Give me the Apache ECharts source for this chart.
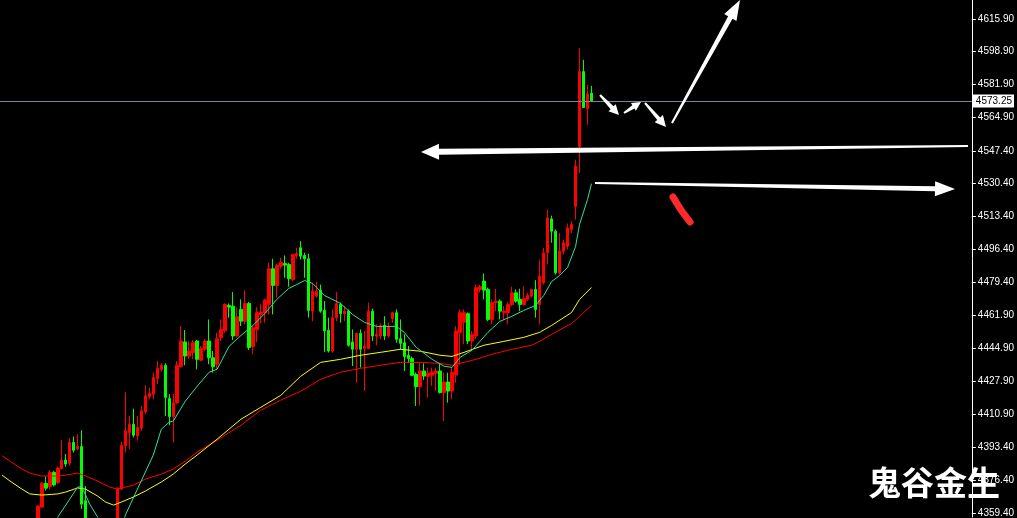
<!DOCTYPE html>
<html><head><meta charset="utf-8">
<script src="https://cdn.jsdelivr.net/npm/echarts@6/dist/echarts.min.js"></script>
<style>html,body{margin:0;padding:0;background:#000}#c{width:1017px;height:518px}</style>
</head><body><div id="c"></div>
<script>
// ---- data ----
const slotCount = 244;
const opens  = [4345,4338,4344,4340,4346,4341,4347,4343,4348,4353.7,4362.5,4374.8,4373.2,4380.5,4375.3,4382.5,4386.9,4385.2,4396.0,4392.6,4393.9,4365.8,4350,4342,4336,4340,4333,4341,4348,4353.7,4371.8,4394.3,4401.2,4405.5,4399.4,4403.4,4411.9,4419.9,4421.1,4429.2,4434.0,4436.1,4418.8,4409.5,4416.7,4435.4,4448.2,4440.9,4442.6,4448.7,4438.7,4444.4,4448.7,4440.0,4436.6,4450.4,4454.0,4467.2,4466.8,4451.3,4465.1,4459.0,4468.2,4445.8,4454.7,4462.5,4463.4,4467.7,4486.2,4477.5,4487.5,4488.9,4488.4,4480.6,4493.1,4497.1,4493.1,4491.4,4464.2,4472.0,4475.1,4464.7,4454.3,4443.5,4460.8,4467.7,4462.9,4464.2,4448.2,4444.4,4452.7,4444.9,4444.7,4464.2,4451.3,4451.3,4456.8,4451.3,4460.3,4463.4,4449.9,4447.8,4441.3,4439.6,4431.4,4425.0,4433.1,4430.3,4430.9,4431.9,4433.1,4421.9,4427.4,4422.7,4431.0,4453.0,4458.5,4462.9,4448.7,4451.3,4475.5,4479.8,4475.5,4459.9,4468.6,4469.4,4463.4,4463.4,4467.7,4473.7,4470.3,4467.7,4470.3,4472.0,4475.5,4467.7,4478.9,4494.5,4512.1,4505.7,4484.1,4495.3,4497.9,4506.6,4518.6,4549.7,4588.6,4569.3,4577.4];
const closes = [4338,4344,4340,4346,4341,4347,4343,4348,4350,4363.0,4374.9,4372.3,4380.5,4374.0,4382.7,4386.9,4384.8,4396.0,4392.0,4394.0,4364.0,4351.0,4342,4336,4340,4333,4341,4348,4344,4372.3,4394.6,4402.1,4405.5,4399.8,4403.8,4412.4,4420.2,4421.6,4429.7,4434.4,4436.1,4419.4,4409.5,4416.7,4436.1,4448.7,4440.9,4443.5,4447.8,4439.2,4444.7,4448.7,4440.0,4435.4,4449.9,4454.7,4467.7,4466.3,4451.3,4461.3,4459.0,4468.2,4445.3,4455.6,4463.4,4463.7,4470.0,4486.2,4477.5,4487.9,4489.6,4488.1,4481.0,4493.6,4494.1,4492.7,4491.4,4464.6,4474.6,4474.6,4464.2,4453.9,4443.5,4460.8,4468.2,4462.9,4464.2,4446.5,4444.4,4452.7,4444.4,4446.1,4464.2,4451.3,4452.2,4456.5,4451.3,4456.1,4463.4,4449.6,4447.5,4440.6,4439.6,4430.9,4425.0,4433.1,4430.5,4432.0,4432.6,4433.1,4421.9,4427.4,4422.7,4432.3,4453.9,4463.4,4463.4,4448.7,4452.2,4476.4,4476.9,4475.1,4459.9,4468.6,4469.4,4464.2,4464.2,4467.7,4473.7,4469.4,4467.7,4470.7,4472.4,4475.5,4465.1,4482.4,4494.5,4512.6,4505.7,4484.1,4495.3,4499.7,4507.4,4509.2,4539.4,4588.6,4569.9,4577.0,4573.25];
const lows   = [4334,4335,4336,4337,4338,4339,4340,4341,4345,4350.5,4362.0,4371.0,4371.8,4373.2,4374.4,4382.2,4383.4,4383.9,4390.8,4392.0,4361.5,4348.5,4338,4330,4331,4328,4330,4338,4340,4352.0,4371.3,4390.9,4392.6,4398.6,4396.9,4402.0,4410.7,4418.5,4418.5,4426.3,4433.0,4409.8,4405.0,4396.0,4415.9,4434.9,4436.1,4439.2,4439.2,4434.0,4438.2,4443.3,4436.6,4432.3,4434.0,4448.7,4453.0,4460.8,4449.2,4450.4,4456.5,4457.3,4444.0,4441.8,4448.2,4457.8,4458.2,4462.5,4462.5,4471.2,4486.2,4481.5,4476.9,4479.8,4491.4,4491.0,4481.5,4460.8,4459.0,4471.2,4463.4,4443.0,4442.7,4442.7,4459.0,4458.2,4459.0,4445.8,4435.7,4427.1,4434.9,4422.7,4444.4,4448.7,4446.5,4449.6,4449.2,4450.4,4458.2,4447.8,4444.4,4433.1,4437.5,4430.5,4415.0,4415.4,4428.5,4419.3,4425.4,4422.7,4421.5,4407.2,4416.7,4418.5,4427.1,4436.1,4447.0,4447.0,4444.4,4449.6,4473.9,4470.3,4459.0,4457.3,4464.2,4459.9,4459.9,4457.3,4466.7,4468.6,4464.2,4467.2,4469.4,4471.3,4460.8,4457.3,4478.0,4488.4,4499.7,4483.2,4483.2,4493.6,4496.2,4504.8,4511.7,4535.9,4569.8,4561.0,4573.2];
const highs  = [4350,4348,4347,4350,4350,4351,4352,4352,4354,4363.5,4375.5,4378.4,4381.7,4381.3,4383.4,4397.2,4390.0,4398.3,4399.1,4400.3,4402.4,4373.4,4353,4346,4344,4343,4345,4352,4355,4372.8,4396.3,4422.1,4409.8,4413.6,4409.8,4415.0,4425.7,4424.5,4432.3,4438.3,4437.1,4437.1,4421.1,4421.1,4438.3,4456.4,4454.4,4448.7,4449.2,4449.2,4446.1,4449.6,4459.9,4443.5,4453.0,4459.9,4468.2,4468.2,4474.1,4466.0,4470.3,4475.1,4469.0,4456.5,4466.3,4467.7,4470.7,4489.3,4491.4,4488.8,4491.9,4493.1,4489.3,4494.1,4497.1,4500.5,4494.5,4494.1,4478.9,4479.3,4478.0,4469.4,4460.8,4465.1,4474.1,4468.6,4466.8,4465.1,4454.7,4453.0,4454.7,4453.9,4468.6,4465.5,4457.3,4457.8,4461.6,4458.2,4463.7,4465.1,4459.9,4452.2,4446.1,4440.6,4432.3,4437.5,4437.1,4434.9,4434.9,4434.9,4437.1,4432.3,4432.3,4434.9,4456.4,4465.1,4465.1,4463.5,4453.9,4478.0,4478.0,4483.8,4476.4,4470.3,4475.8,4470.3,4466.8,4468.9,4476.9,4475.5,4475.8,4477.2,4473.7,4475.8,4480.3,4491.0,4497.1,4516.9,4513.8,4506.6,4504.8,4501.4,4509.7,4510.9,4542.8,4600.7,4594.7,4581.7,4581.2];
// moving averages: [bar index, price]
const maFast = [[13,4350],[14,4357.3],[16,4363.5],[17,4366.6],[18,4369.7],[19,4372.9],[20,4372.9],[21,4368.7],[22,4364.1],[24,4357.3],[26,4348],[28,4347],[30,4352],[31,4358.4],[34,4371.8],[38,4389.5],[40,4402.9],[42,4406.6],[43,4407.1],[46,4417.4],[49,4425.2],[52,4432.5],[54,4434.0],[57,4445.9],[60,4451.6],[63,4456.8],[66,4463.0],[69,4470.3],[72,4476.0],[74,4478.0],[76,4480.1],[78,4478.6],[81,4472.3],[85,4468.2],[88,4462.5],[91,4458.4],[94,4456.3],[99,4456.3],[101,4453.2],[104,4445.4],[108,4439.2],[111,4435.6],[113,4435.0],[115,4440.2],[118,4443.9],[120,4448.5],[122,4453.2],[125,4458.9],[128,4461.5],[131,4464.6],[134,4467.2],[136,4472.3],[138,4479.6],[140,4482.7],[142,4486.9],[144,4497.7],[145,4509.2],[147,4522.1],[148,4530.4]];
const maMid  = [[0,4379.1],[2,4376.0],[5,4371.8],[7,4369.3],[10,4368.7],[14,4369.3],[16,4370.3],[19,4372.4],[21,4371.8],[24,4368.2],[26,4365.1],[28,4363.5],[30,4365.1],[33,4367.7],[36,4370.8],[40,4375.5],[43,4379.6],[46,4384.8],[49,4389.5],[54,4397.7],[60,4408.1],[65,4414.3],[70,4420.5],[75,4430.4],[80,4437.6],[85,4439.2],[90,4441.3],[95,4442.8],[100,4444.4],[105,4443.4],[110,4441.3],[113,4440.7],[116,4442.8],[121,4446.5],[126,4448.5],[131,4450.6],[135,4453.2],[138,4456.8],[143,4463.5],[145,4470.3],[148,4476.5]];
const maSlow = [[0,4389.2],[2,4386.3],[5,4382.2],[7,4380.1],[10,4378.6],[14,4378.6],[16,4379.1],[19,4380.1],[21,4378.6],[24,4376.0],[27,4372.9],[29,4371.8],[33,4373.9],[36,4377.0],[40,4379.6],[43,4382.2],[46,4386.3],[49,4391.0],[54,4397.2],[60,4405.0],[65,4412.8],[70,4418.0],[75,4422.6],[80,4428.8],[85,4432.5],[90,4434.5],[95,4436.1],[100,4437.6],[105,4437.6],[110,4437.1],[113,4436.1],[116,4437.6],[119,4439.2],[123,4441.8],[128,4444.4],[133,4446.5],[135,4448.5],[138,4452.2],[143,4457.8],[145,4461.5],[148,4467.2]];
const priceTicks = [4615.9,4598.9,4581.9,4564.9,4547.4,4530.4,4513.4,4496.4,4479.4,4461.9,4444.9,4427.9,4410.9,4393.4,4376.4,4359.4];
const yMin = 4357.3, yMax = 4625.75;
const lastPrice = 4573.25;
const watermark = '鬼谷金生';

// ---- build ----
const categories = Array.from({length: slotCount}, (_, i) => String(i + 1));
const ohlc = opens.map((o, i) => [o, closes[i], lows[i], highs[i]]);

function arrowPoly(x1, y1, x2, y2, w1, w2, hl, hw) {
  const dx = x2 - x1, dy = y2 - y1, L = Math.hypot(dx, dy);
  const ux = dx / L, uy = dy / L, nx = -uy, ny = ux;
  const bx = x2 - ux * hl, by = y2 - uy * hl;
  return [[x1 + nx * w1 / 2, y1 + ny * w1 / 2], [bx + nx * w2 / 2, by + ny * w2 / 2], [bx + nx * hw / 2, by + ny * hw / 2], [x2, y2],
          [bx - nx * hw / 2, by - ny * hw / 2], [bx - nx * w2 / 2, by - ny * w2 / 2], [x1 - nx * w1 / 2, y1 - ny * w1 / 2]];
}
const arrows = [
  arrowPoly(968, 146, 421, 152, 2, 6, 18, 16),
  arrowPoly(595, 183, 955, 189, 2, 5, 20, 15),
  arrowPoly(600, 95, 619, 115, 2, 4, 10, 10),
  arrowPoly(624, 113, 641, 102, 2, 4, 9, 9),
  arrowPoly(645, 103, 666, 127, 2, 4, 11, 11),
  arrowPoly(672, 123, 740, 0, 2, 5, 20, 14)
];

const chart = echarts.init(document.getElementById('c'), null, {renderer: 'canvas'});
const font = 'Liberation Sans';
chart.setOption({
  backgroundColor: '#000',
  animation: false,
  grid: {left: 0, right: 41, top: 0, bottom: 0},
  xAxis: {type: 'category', data: categories, boundaryGap: true, show: false},
  yAxis: {
    type: 'value', position: 'right', min: yMin, max: yMax, scale: true,
    splitLine: {show: false},
    axisLine: {show: true, lineStyle: {color: '#ffffff', width: 1}},
    axisTick: {show: true, inside: false, length: 4, lineStyle: {color: '#ffffff'}, customValues: priceTicks},
    axisLabel: {show: true, color: '#ffffff', fontFamily: font, fontSize: 10, margin: 6,
      customValues: priceTicks, formatter: v => v.toFixed(2)}
  },
  series: [
    {type: 'candlestick', data: ohlc, barWidth: 3, clip: true,
      itemStyle: {color: '#ff0000', color0: '#00ff00', borderColor: '#ff0000', borderColor0: '#00ff00', borderWidth: 1},
      markLine: {silent: true, symbol: ['none', 'none'], animation: false,
        lineStyle: {color: '#778899', width: 1, type: 'solid'},
        label: {show: true, position: 'end', distance: 1, formatter: lastPrice.toFixed(2), color: '#000', backgroundColor: '#fff',
          fontFamily: font, fontSize: 10, padding: [2, 2, 1, 3]},
        data: [{yAxis: lastPrice}]}
    },
    {type: 'line', data: maSlow, showSymbol: false, symbol: 'none', lineStyle: {color: '#ff0000', width: 1}, z: 3},
    {type: 'line', data: maMid, showSymbol: false, symbol: 'none', lineStyle: {color: '#ffff00', width: 1}, z: 3},
    {type: 'line', data: maFast, showSymbol: false, symbol: 'none', lineStyle: {color: '#2be39a', width: 1}, z: 3}
  ],
  graphic: [
    ...arrows.map(p => ({type: 'polygon', shape: {points: p}, style: {fill: '#ffffff'}, z: 100})),
    {type: 'polyline', shape: {points: [[673, 197], [681, 210], [690, 222]]}, style: {stroke: '#ff2a2a', lineWidth: 7, lineCap: 'round', lineJoin: 'round'}, z: 100},
    {type: 'text', left: 868, top: 466, z: 100, style: {text: watermark, fill: '#ffffff', font: 'bold 33px "Noto Sans CJK SC"'}}
  ]
});
</script>
</body></html>
